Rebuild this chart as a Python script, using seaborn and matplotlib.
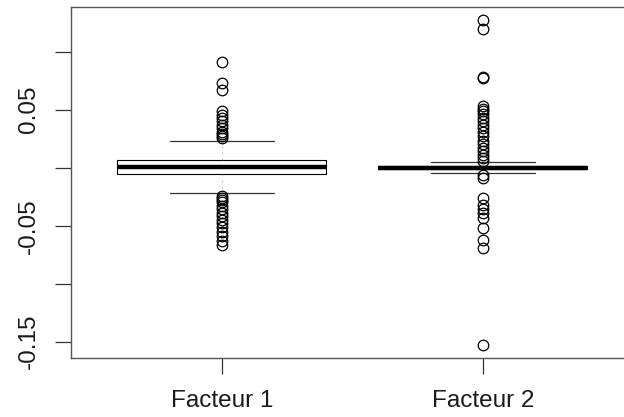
import numpy as np
import pandas as pd
import matplotlib
matplotlib.use("Agg")
import matplotlib.pyplot as plt
import seaborn as sns

# Groups and their box summaries
facteurs = ["Facteur 1", "Facteur 2"]
q1 = [-0.0057, -0.0013]
mediane = [0.0009, 0.0]
q3 = [0.0066, 0.0013]
moustache_basse = [-0.0222, -0.0045]
moustache_haute = [0.0228, 0.0046]
# number of observations sitting at each quartile / median
effectif_coeur = 100

# Outlying observations per group
atypiques_f1 = [0.0915, 0.0728, 0.0668, 0.0485, 0.0455, 0.0425, 0.040, 0.037,
                0.034, 0.031, 0.029, 0.027, 0.0255,
                -0.0245, -0.026, -0.028, -0.030, -0.033, -0.036, -0.039,
                -0.042, -0.045, -0.048, -0.051, -0.055, -0.059, -0.063, -0.0665]
atypiques_f2 = [0.1275, 0.1195, 0.0785, 0.0775, 0.053, 0.051, 0.049, 0.046,
                0.043, 0.040, 0.037, 0.034, 0.031, 0.027, 0.023, 0.020, 0.017,
                0.014, 0.011, 0.008, 0.006,
                -0.006, -0.0085, -0.026, -0.032, -0.036, -0.039, -0.043,
                -0.052, -0.062, -0.069, -0.1525]
atypiques = [atypiques_f1, atypiques_f2]

y_ticks = [-0.15, -0.10, -0.05, 0.0, 0.05, 0.10]
y_tick_labels = ["-0.15", "", "-0.05", "", "0.05", ""]

# Assemble the long-form table
rows = []
for i, f in enumerate(facteurs):
    vals = ([moustache_basse[i]]
            + [q1[i]] * effectif_coeur
            + [mediane[i]] * effectif_coeur
            + [q3[i]] * effectif_coeur
            + [moustache_haute[i]]
            + atypiques[i])
    rows += [(f, v) for v in vals]
df = pd.DataFrame(rows, columns=["facteur", "valeur"])

sns.set_style("ticks")
plt.rcParams["font.family"] = ["Liberation Sans", "DejaVu Sans"]

fig = plt.figure(figsize=(6.24, 4.17), dpi=100)
ax = fig.add_axes([70.5 / 624, (417 - 357.5) / 417, 563.5 / 624, 350.5 / 417])

sns.boxplot(
    data=df, x="facteur", y="valeur", order=facteurs, ax=ax,
    width=0.8, whis=1.5, color="white", linecolor="black", linewidth=0.8,
    medianprops={"linewidth": 3.2, "color": "black", "solid_capstyle": "butt"},
    whiskerprops={"linestyle": (0, (2, 7)), "linewidth": 0.5, "color": "#888888"},
    capprops={"linewidth": 0.9, "color": "#333333"},
    flierprops={"marker": "o", "markerfacecolor": "none", "markeredgecolor": "black",
                "markersize": 7.6, "markeredgewidth": 0.9},
)

ax.set_xlim(-0.58, 1.58)
ax.set_ylim(-0.1636, 0.1385)
ax.set_xlabel("")
ax.set_ylabel("")

ax.set_yticks(y_ticks)
ax.set_yticklabels(y_tick_labels, rotation=90, va="center")
ax.tick_params(axis="both", length=11.3, width=0.9, color="#333333",
               labelsize=17.5, labelcolor="#1a1a1a")
ax.tick_params(axis="y", pad=11)
ax.tick_params(axis="x", pad=12)

for side in ["left", "bottom", "top", "right"]:
    ax.spines[side].set_visible(True)
    ax.spines[side].set_color("#555555")
    ax.spines[side].set_linewidth(1.0)

fig.savefig("out.png", dpi=100)
